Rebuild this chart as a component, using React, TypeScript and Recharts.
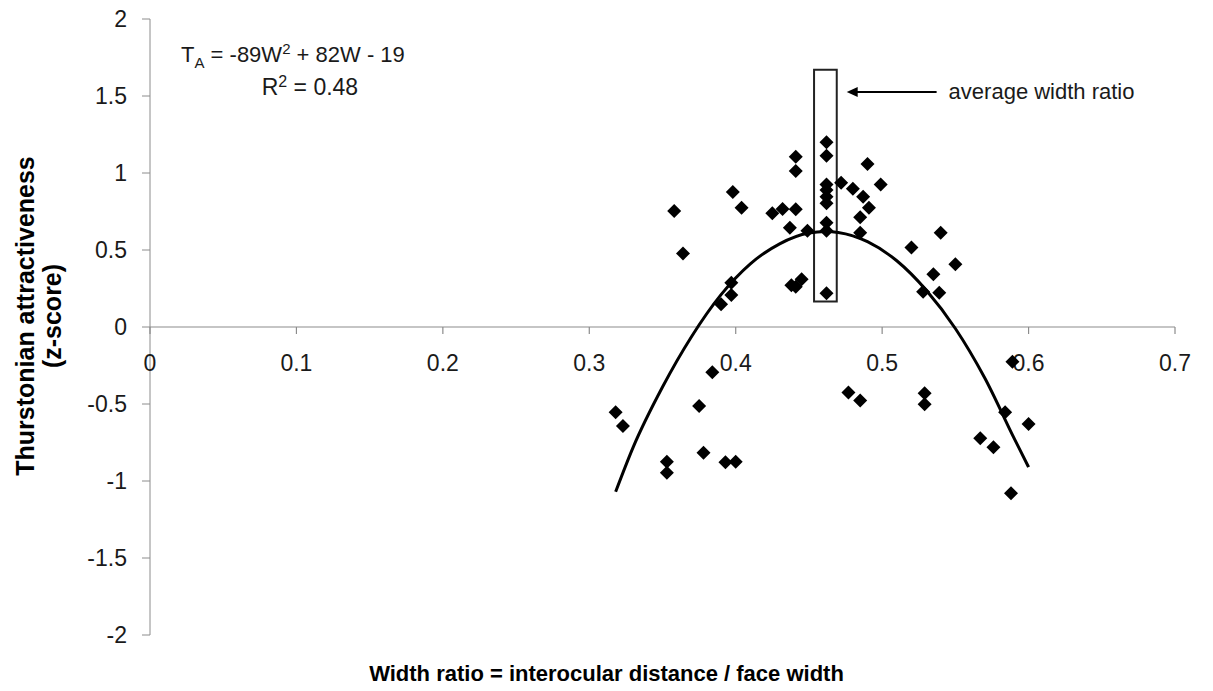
import React from 'react';
import {
    ComposedChart, Scatter, Line, XAxis, YAxis, ReferenceLine, ReferenceArea, ReferenceDot,
} from 'recharts';

// Observed faces: width ratio (x) vs Thurstonian attractiveness (y)
const widthRatio = [
    0.358, 0.364, 0.398, 0.404, 0.425, 0.432, 0.441, 0.437, 0.441, 0.441, 0.449,
    0.397, 0.397, 0.390, 0.438, 0.441, 0.445,
    0.462, 0.462, 0.462, 0.462, 0.462, 0.462, 0.462, 0.462, 0.462,
    0.472, 0.480, 0.490, 0.487, 0.499, 0.491, 0.485, 0.485,
    0.520, 0.540, 0.550, 0.535, 0.528, 0.539,
    0.384, 0.375, 0.318, 0.323, 0.378, 0.353, 0.353, 0.393, 0.400,
    0.589, 0.477, 0.485, 0.529, 0.529, 0.584, 0.600, 0.567, 0.576, 0.588,
];
const zScore = [
    0.753, 0.478, 0.877, 0.775, 0.738, 0.766, 0.764, 0.645, 1.106, 1.013, 0.625,
    0.288, 0.208, 0.147, 0.271, 0.262, 0.31,
    1.199, 1.112, 0.926, 0.89, 0.846, 0.803, 0.677, 0.625, 0.219,
    0.937, 0.898, 1.058, 0.846, 0.926, 0.775, 0.712, 0.612,
    0.517, 0.612, 0.407, 0.342, 0.229, 0.223,
    -0.294, -0.513, -0.554, -0.643, -0.816, -0.875, -0.946, -0.879, -0.875,
    -0.225, -0.426, -0.478, -0.431, -0.502, -0.554, -0.63, -0.723, -0.781, -1.08,
];

// Quadratic trend line
const trendW = [0.318, 0.33, 0.35, 0.37, 0.39, 0.41, 0.43, 0.45, 0.4615, 0.47, 0.49, 0.51, 0.53, 0.55, 0.57, 0.59, 0.6];
const trendZ = [-1.07, -0.78, -0.39, -0.06, 0.21, 0.41, 0.54, 0.61, 0.62, 0.614, 0.554, 0.43, 0.24, -0.01, -0.33, -0.72, -0.91];

const xTicks = [0, 0.1, 0.2, 0.3, 0.4, 0.5, 0.6, 0.7];
const yTicks = [-2, -1.5, -1, -0.5, 0, 0.5, 1, 1.5, 2];

// "average width ratio" box and arrow
const avgBox = { x1: 0.4535, x2: 0.469, y1: 0.165, y2: 1.67 };
const arrow = { from: 0.5372, to: 0.4758, y: 1.526 };

const points = widthRatio.map((x, i) => ({ x, y: zScore[i] }));
const trend = trendW.map((x, i) => ({ x, y: trendZ[i] }));

const W = 1213;
const H = 691;
const FONT = '"Liberation Sans", Arial, sans-serif';
const AXIS = '#8c8c8c';
const INK = '#1a1a1a';

const Diamond = (props: any) => {
    const { cx, cy } = props;
    const s = 7;
    return <path d={`M${cx},${cy - s}L${cx + s},${cy}L${cx},${cy + s}L${cx - s},${cy}Z`} fill="#000" />;
};

const XTickMark = (label: string) => (props: any) => {
    const { cx, cy } = props;
    return (
        <g>
            <line x1={cx} y1={cy} x2={cx} y2={cy + 7} stroke={AXIS} strokeWidth={1.2} />
            <text x={cx} y={cy + 36} dy="0.355em" textAnchor="middle" fontSize={23} fontFamily={FONT} fill={INK}>{label}</text>
        </g>
    );
};

const ArrowShape = (props: any) => {
    const { x1, y1, x2, y2 } = props;
    return (
        <g>
            <line x1={x1} y1={y1} x2={x2 + 8} y2={y2} stroke="#000" strokeWidth={2} />
            <path d={`M${x2},${y2}L${x2 + 11},${y2 - 5}L${x2 + 11},${y2 + 5}Z`} fill="#000" />
            <text x={x1 + 12} y={y1} dy="0.3em" fontSize={22} fontFamily={FONT} fill={INK}>average width ratio</text>
        </g>
    );
};

const EquationShape = (props: any) => {
    const { cx, cy } = props;
    return (
        <g fontFamily={FONT} fontSize={22} fill={INK}>
            <text x={cx} y={cy} textAnchor="middle">
                T<tspan fontSize={15} dy={6}>A</tspan>
                <tspan dy={-6}> = -89W</tspan>
                <tspan fontSize={15} dy={-8}>2</tspan>
                <tspan dy={8}> + 82W - 19</tspan>
            </text>
            <text x={cx + 17} y={cy + 33} textAnchor="middle" fontSize={23}>
                R<tspan fontSize={16} dy={-8}>2</tspan>
                <tspan dy={8}> = 0.48</tspan>
            </text>
        </g>
    );
};

export default function App() {
    return (
        <div style={{ position: 'absolute', left: 0, top: 0, width: W, height: H, background: '#fff' }}>
            <ComposedChart width={W} height={H} margin={{ top: 19, right: 38, bottom: 0, left: 0 }}>
                <XAxis dataKey="x" type="number" domain={[0, 0.7]} ticks={xTicks} height={56}
                    axisLine={false} tickLine={false} tick={false} />
                <YAxis dataKey="y" type="number" domain={[-2, 2]} ticks={yTicks} width={150}
                    stroke={AXIS} tickSize={8} tickMargin={15}
                    tick={{ fontSize: 23, fontFamily: FONT, fill: INK }} />
                <ReferenceLine y={0} stroke={AXIS} strokeWidth={1.2} />
                {xTicks.map(t => (
                    <ReferenceDot key={t} x={t} y={0} r={0} shape={XTickMark(String(t))} />
                ))}
                <ReferenceArea x1={avgBox.x1} x2={avgBox.x2} y1={avgBox.y1} y2={avgBox.y2}
                    fill="none" fillOpacity={0} stroke="#222" strokeWidth={2} />
                <ReferenceLine segment={[{ x: arrow.from, y: arrow.y }, { x: arrow.to, y: arrow.y }]} shape={ArrowShape} />
                <ReferenceDot x={0.0976} y={1.72} r={0} shape={EquationShape} />
                <Line data={trend} dataKey="y" type="monotone" stroke="#000" strokeWidth={3}
                    dot={false} activeDot={false} isAnimationActive={false} />
                <Scatter data={points} dataKey="y" shape={Diamond} isAnimationActive={false} />
            </ComposedChart>
            <svg width={W} height={H} style={{ position: 'absolute', left: 0, top: 0, pointerEvents: 'none' }}>
                <g fontFamily={FONT} fontWeight="bold" fontSize={25} fill="#000" textAnchor="middle">
                    <text transform="translate(25, 316) rotate(-90)" dy="0.355em">Thurstonian attractiveness</text>
                    <text transform="translate(52, 316) rotate(-90)" dy="0.355em">(z-score)</text>
                </g>
                <text x={W / 2} y={673} dy="0.355em" textAnchor="middle" fontFamily={FONT} fontWeight="bold" fontSize={22} fill="#000">
                    Width ratio = interocular distance / face width
                </text>
            </svg>
        </div>
    );
}
